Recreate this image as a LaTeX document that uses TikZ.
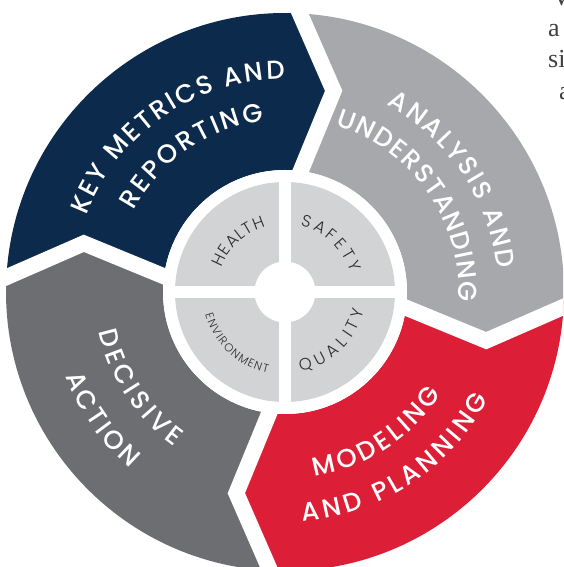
\documentclass[tikz,border=0pt]{standalone}
\usepackage{fontspec}
\usetikzlibrary{decorations.text}
\newfontfamily\labelfont{Poppins Medium}
\newfontfamily\discfont{Poppins Light}
\newfontfamily\pagefont{Liberation Serif}
\definecolor{navyseg}{HTML}{0C2A4B}
\definecolor{lightseg}{HTML}{A7A8AC}
\definecolor{redseg}{HTML}{DC1F36}
\definecolor{darkseg}{HTML}{6D6E72}
\definecolor{discgray}{HTML}{D1D3D4}
\definecolor{disctext}{HTML}{2E2E2E}
\definecolor{pagetext}{HTML}{404040}
\newcommand\outerfmt{\labelfont\fontsize{26pt}{26pt}\selectfont\color{white}}
\newcommand\innerfmt{\discfont\fontsize{16.5pt}{16.5pt}\selectfont\color{disctext}}
\newcommand\smallfmt{\discfont\fontsize{11.5pt}{11.5pt}\selectfont\color{disctext}}
\tikzset{
  cut/.style={draw=white, line width=16pt, line join=miter},
  outerlabel/.style={decorate, decoration={text along path, text align=fit to path, text={|\outerfmt|#1}}},
  innerlabel/.style={decorate, decoration={text along path, text align=fit to path, text={|\innerfmt|#1}}},
  smalllabel/.style={decorate, decoration={text along path, text align=fit to path, text={|\smallfmt|#1}}},
  fragment/.style={anchor=base west, inner sep=0pt, text=pagetext, font=\pagefont\fontsize{26pt}{26pt}\selectfont}
}
\begin{document}
\begin{tikzpicture}
                \useasboundingbox (0,0) rectangle (563pt,567pt);
                \clip (0,0) rectangle (563pt,567pt);
                \node[fragment] (fragv) at (552pt,561pt) {V};
                \node[fragment] (fraga) at (548pt,530pt) {a};
                \node[fragment] (fragsi) at (548pt,499pt) {si};
                \node[fragment] (fragb) at (559pt,467pt) {a};
                \begin{scope}[shift={(285pt,275pt)}]
                    \fill[navyseg] (178.5:279pt) arc[start angle=178.5, end angle=88.5, radius=279pt] -- (76.4:207pt) -- (86:122pt) arc[start angle=86, end angle=176, radius=122pt] -- (166.4:207pt) -- cycle;
                    \fill[lightseg] (88.5:279pt) arc[start angle=88.5, end angle=-1.5, radius=279pt] -- (-13.6:207pt) -- (-4:122pt) arc[start angle=-4, end angle=86, radius=122pt] -- (76.4:207pt) -- cycle;
                    \fill[redseg] (-1.5:279pt) arc[start angle=-1.5, end angle=-91.5, radius=279pt] -- (-103.6:207pt) -- (-94:122pt) arc[start angle=-94, end angle=-4, radius=122pt] -- (-13.6:207pt) -- cycle;
                    \fill[darkseg] (-91.5:279pt) arc[start angle=-91.5, end angle=-181.5, radius=279pt] -- (-193.6:207pt) -- (-184:122pt) arc[start angle=-184, end angle=-94, radius=122pt] -- (-103.6:207pt) -- cycle;
                    \draw[cut] (86:100pt) -- (76.4:207pt) -- (88.5:295pt);
                    \draw[cut] (-4:100pt) -- (-13.6:207pt) -- (-1.5:295pt);
                    \draw[cut] (-94:100pt) -- (-103.6:207pt) -- (-91.5:295pt);
                    \draw[cut] (176:100pt) -- (166.4:207pt) -- (178.5:295pt);
                    \fill[white] (0,0) circle (122pt);
                    \fill[discgray] (0,0) circle (110pt);
                    \draw[white, line width=12pt] (-112pt,0) -- (112pt,0);
                    \draw[white, line width=12pt] (0,-112pt) -- (0,112pt);
                    \fill[white] (0,0) circle (30.5pt);
                    \path[outerlabel={KEY METRICS AND}] (159:213pt) arc[start angle=159, end angle=90, radius=213pt];
                    \path[outerlabel={REPORTING}] (151.7:172pt) arc[start angle=151.7, end angle=97, radius=172pt];
                    \path[outerlabel={ANALYSIS AND}] (61.5:213pt) arc[start angle=61.5, end angle=6.3, radius=213pt];
                    \path[outerlabel={UNDERSTANDING}] (73.3:174pt) arc[start angle=73.3, end angle=-3.2, radius=174pt];
                    \path[outerlabel={MODELING}] (-80.8:187pt) arc[start angle=-80.8, end angle=-33.2, radius=187pt];
                    \path[outerlabel={AND PLANNING}] (-85.6:230pt) arc[start angle=-85.6, end angle=-27.8, radius=230pt];
                    \path[outerlabel={DECISIVE}] (192:190pt) arc[start angle=192, end angle=234.3, radius=190pt];
                    \path[outerlabel={ACTION}] (201:235pt) arc[start angle=201, end angle=228.7, radius=235pt];
                    \path[innerlabel={HEALTH}] (159:68pt) arc[start angle=159, end angle=106.5, radius=68pt];
                    \path[innerlabel={SAFETY}] (77:68pt) arc[start angle=77, end angle=16.5, radius=68pt];
                    \path[innerlabel={QUALITY}] (-79:81pt) arc[start angle=-79, end angle=-13, radius=81pt];
                    \path[smalllabel={ENVIRONMENT}] (196:83pt) arc[start angle=196, end angle=258, radius=83pt];
                \end{scope}
            \end{tikzpicture}
\end{document}
